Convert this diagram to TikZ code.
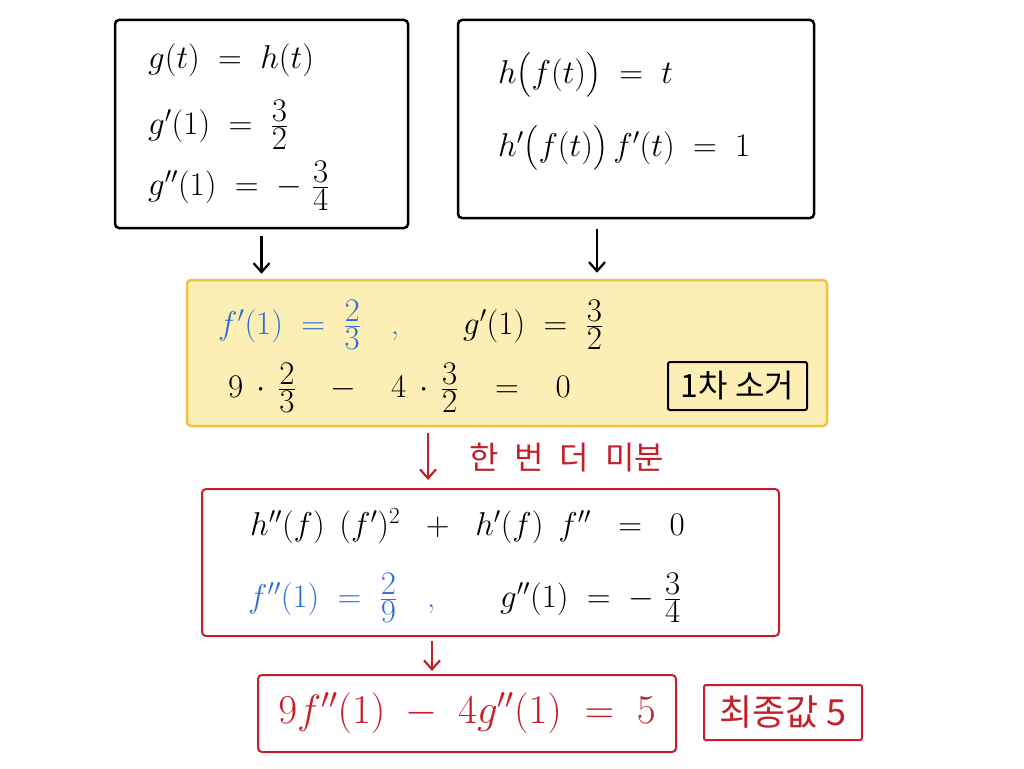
\RequirePackage{fix-cm}
\documentclass[tikz,border=0pt]{standalone}
\usepackage{amsmath}
\usepackage{fontspec}
\newfontfamily\krfont{Noto Sans CJK KR}
\usepackage{tikz}
\usetikzlibrary{arrows.meta}
\usetikzlibrary{positioning}
\definecolor{fblue}{HTML}{2F6ED3}
\definecolor{dred}{HTML}{C3202B}
\definecolor{notefill}{HTML}{FCEFB5}
\definecolor{noteedge}{HTML}{F0C33C}
\newcommand{\hfr}[2]{\frac{\textstyle #1}{\textstyle #2}}
\tikzset{
  box/.style={draw, line width=2.5pt, rounded corners=4pt, inner sep=0pt},
  redbox/.style={box, draw=dred, line width=2pt},
  eq/.style={anchor=west, inner sep=0pt, font=\fontsize{33}{38}\selectfont},
  kr/.style={inner sep=0pt, font=\fontsize{32}{36}\selectfont\krfont},
  down/.style={-{Straight Barb[length=9pt,width=16pt]}, line width=2.2pt},
}

\begin{document}
\begin{tikzpicture}[x=1pt, y=-1pt]
\useasboundingbox (0,0) rectangle (1024,768);

% given data
\node[box, minimum width=293pt, minimum height=208pt] (given) at (261.5,124) {};
\node[eq] (gh) at (148,60) {$g(t) \;=\; h(t)$};
\node[eq] (g1) at (148,125) {$g'(1) \;=\; \hfr{3}{2}$};
\node[eq] (g2) at (148,186) {$g''(1) \;=\; -\;\hfr{3}{4}$};

% inverse relation
\node[box, minimum width=356pt, minimum height=198pt] (inv) at (636,119) {};
\node[eq] (hf) at (498,75) {$h\bigl(f(t)\bigr) \;=\; t$};
\node[eq] (hf1) at (498,148) {$h'\bigl(f(t)\bigr)\,f'(t) \;=\; 1$};

% first derivative
\node[box, draw=noteedge, fill=notefill, minimum width=640pt, minimum height=146pt] (first) at (507,353) {};
\node[eq, text=fblue] (fd1) at (218,325) {$f'(1) \;=\; \hfr{2}{3}$\ \ \ ,};
\node[eq] (gd1) at (463,325) {$g'(1) \;=\; \hfr{3}{2}$};
\node[eq] (zero) at (228,388) {$9\,\cdot\,\hfr{2}{3} \;\;\;-\;\;\; 4\,\cdot\,\hfr{3}{2} \;\;\;=\;\;\; 0$};
\node[box, line width=2pt, rounded corners=2pt, minimum width=139pt, minimum height=48pt, kr] (elim) at (737.5,386) {1차 소거};

% second derivative
\node[redbox, minimum width=577pt, minimum height=147pt] (second) at (490.5,562.5) {};
\node[eq] (chain) at (250,526) {$h''(f)\;\,(f')^2 \;\;+\;\; h'(f)\;\,f'' \;\;=\;\; 0$};
\node[eq, text=fblue] (fd2) at (248,598) {$f''(1) \;=\; \hfr{2}{9}$\ \ \ ,};
\node[eq] (gd2) at (500,598) {$g''(1) \;=\; -\;\hfr{3}{4}$};

% result
\node[redbox, minimum width=418pt, minimum height=77pt, text=dred, font=\fontsize{41}{46}\selectfont] (final) at (467,713.5) {$9f''(1) \;-\; 4g''(1) \;=\; 5$\hspace{28pt}};
\node[redbox, rounded corners=2pt, minimum width=158pt, minimum height=55pt, kr, text=dred, font=\fontsize{36}{40}\selectfont\krfont] (answer) at (783,712.5) {최종값 5};

% arrows
\coordinate (bx) at (597,0);
\coordinate (rx) at (428,0);
\coordinate (fx) at (432,0);
\draw[down, shorten <=7pt, shorten >=5pt] (given.south) -- (given.south |- first.north);
\draw[down, shorten <=10pt, shorten >=6pt] (inv.south -| bx) -- (first.north -| bx);
\draw[down, dred, shorten <=6pt, shorten >=8pt] (first.south -| rx) -- (second.north -| rx)
  node[kr, text=dred, right=40pt, midway] (again) {한\hspace{16pt}번\hspace{16pt}더\hspace{16pt}미분};
\draw[down, dred, shorten <=4pt, shorten >=3pt] (second.south -| fx) -- (final.north -| fx);

\end{tikzpicture}
\end{document}
